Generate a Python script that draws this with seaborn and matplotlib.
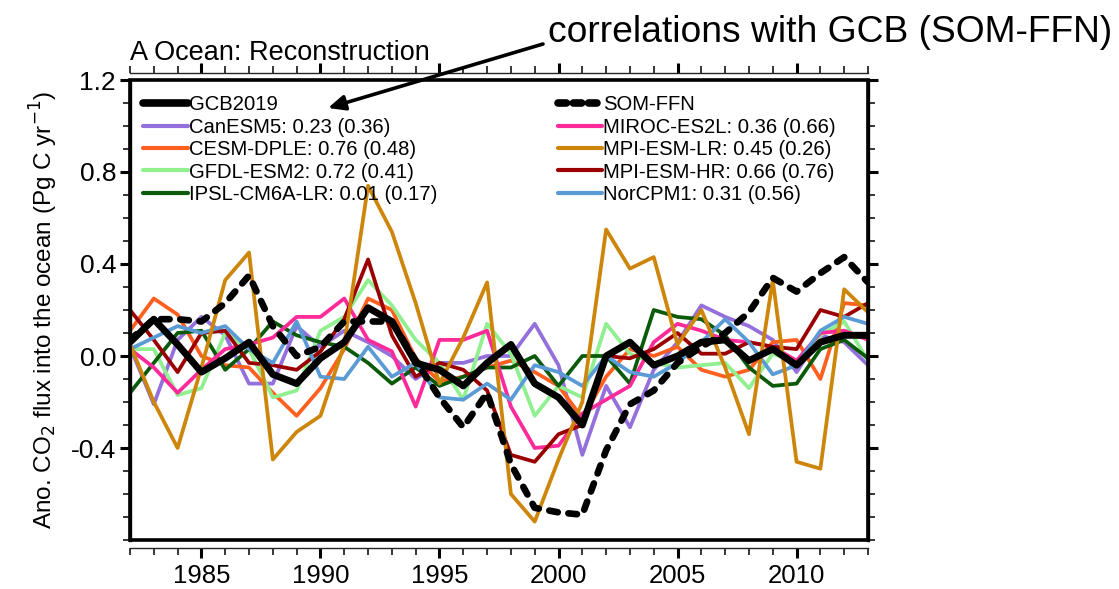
import numpy as np
import pandas as pd
import matplotlib
matplotlib.use("Agg")
import matplotlib.pyplot as plt
from matplotlib.patches import Rectangle
from matplotlib.lines import Line2D
from matplotlib.ticker import MultipleLocator, FixedLocator
import seaborn as sns

years = list(range(1982, 2014))

gcb2019 = [0.06, 0.16, 0.05, -0.07, -0.01, 0.06, -0.08, -0.12, -0.01, 0.06,
           0.21, 0.15, -0.03, -0.06, -0.13, -0.03, 0.05, -0.12, -0.18, -0.30,
           0.00, 0.06, -0.04, 0.00, 0.06, 0.07, -0.02, 0.03, -0.04, 0.06,
           0.09, 0.09]
som_ffn = [0.07, 0.16, 0.16, 0.15, 0.23, 0.35, 0.13, 0.00, 0.04, 0.15,
           0.15, 0.15, -0.02, -0.18, -0.31, -0.16, -0.47, -0.66, -0.68, -0.69,
           -0.41, -0.21, -0.15, -0.03, 0.04, 0.10, 0.19, 0.34, 0.28, 0.36,
           0.43, 0.32]
canesm5 = [0.04, -0.21, 0.07, 0.17, 0.09, -0.12, -0.12, 0.13, 0.04, 0.11,
           0.06, 0.00, -0.10, -0.03, -0.03, 0.00, 0.00, 0.14, -0.04, -0.43,
           -0.13, -0.31, -0.06, 0.06, 0.22, 0.17, 0.13, 0.07, -0.07, 0.09,
           0.06, -0.04]
cesm_dple = [0.11, 0.25, 0.18, 0.00, -0.04, -0.05, -0.16, -0.26, -0.14, 0.03,
             0.25, 0.20, -0.01, -0.11, -0.09, -0.05, -0.02, -0.07, -0.13, -0.27,
             -0.09, 0.03, 0.00, 0.04, -0.06, -0.09, -0.06, 0.06, 0.07, -0.10,
             0.23, 0.22]
gfdl_esm2 = [0.03, 0.03, -0.17, -0.14, 0.10, 0.03, -0.18, -0.15, 0.11, 0.17,
             0.33, 0.22, 0.07, -0.03, -0.19, 0.14, 0.01, -0.26, -0.13, -0.18,
             0.14, 0.01, -0.03, -0.05, -0.04, -0.03, -0.14, 0.01, -0.03, 0.09,
             0.15, -0.02]
ipsl = [-0.16, -0.03, 0.10, 0.11, -0.06, 0.03, 0.15, 0.09, 0.06, 0.04,
        -0.03, -0.12, -0.05, -0.13, -0.09, -0.05, -0.05, 0.00, -0.13, 0.00,
        0.00, -0.12, 0.20, 0.17, 0.16, 0.09, -0.05, -0.13, -0.12, 0.03,
        0.07, -0.01]
miroc = [0.03, -0.05, -0.16, -0.06, 0.03, 0.05, 0.08, 0.17, 0.17, 0.25,
         0.07, 0.02, -0.22, 0.07, 0.07, 0.11, -0.22, -0.40, -0.39, -0.25,
         -0.19, -0.13, 0.06, 0.14, 0.11, 0.07, 0.06, 0.04, -0.02, 0.10,
         0.11, 0.07]
mpi_lr = [0.05, -0.20, -0.40, -0.05, 0.33, 0.45, -0.45, -0.33, -0.26, 0.05,
          0.74, 0.54, 0.23, -0.12, 0.08, 0.32, -0.60, -0.72, -0.45, -0.20,
          0.55, 0.38, 0.43, 0.05, 0.20, -0.05, -0.34, 0.33, -0.46, -0.49,
          0.29, 0.19]
mpi_hr = [0.20, 0.07, -0.07, 0.10, 0.11, -0.03, -0.04, -0.06, 0.02, 0.16,
          0.42, 0.09, -0.09, -0.03, -0.06, -0.15, -0.43, -0.46, -0.34, -0.30,
          0.00, -0.01, 0.03, 0.10, 0.01, 0.01, 0.06, 0.04, 0.03, 0.20,
          0.17, 0.23]
norcpm1 = [0.03, 0.08, 0.13, 0.10, 0.13, 0.03, -0.03, 0.15, -0.09, -0.10,
           0.04, -0.09, -0.03, -0.18, -0.19, -0.12, -0.19, -0.04, -0.07, -0.13,
           0.00, -0.07, -0.09, -0.03, 0.06, 0.16, 0.06, -0.08, -0.04, 0.11,
           0.17, 0.14]

model_names = ["CanESM5", "CESM-DPLE", "GFDL-ESM2", "IPSL-CM6A-LR",
               "MIROC-ES2L", "MPI-ESM-LR", "MPI-ESM-HR", "NorCPM1"]
model_labels = ["CanESM5: 0.23 (0.36)", "CESM-DPLE: 0.76 (0.48)",
                "GFDL-ESM2: 0.72 (0.41)", "IPSL-CM6A-LR: 0.01 (0.17)",
                "MIROC-ES2L: 0.36 (0.66)", "MPI-ESM-LR: 0.45 (0.26)",
                "MPI-ESM-HR: 0.66 (0.76)", "NorCPM1: 0.31 (0.56)"]
model_values = [canesm5, cesm_dple, gfdl_esm2, ipsl, miroc, mpi_lr, mpi_hr, norcpm1]
model_colors = ["#9370DB", "#FF5F1F", "#90F090", "#0A5A0A",
                "#FF2A9A", "#CD850A", "#9B0000", "#5B9BD5"]

sns.set_style("ticks")
plt.rcParams['font.family'] = ['Liberation Sans', 'DejaVu Sans']
plt.rcParams['text.color'] = 'black'
plt.rcParams['axes.labelcolor'] = 'black'
plt.rcParams['xtick.color'] = 'black'
plt.rcParams['ytick.color'] = 'black'

fig = plt.figure(figsize=(11.19, 5.89), dpi=100)
ax = fig.add_axes([130/1119, 1-540/589, 738/1119, 460/589])

# models
order = [5, 0, 1, 2, 3, 4, 6, 7]
for i in order:
    sns.lineplot(x=years, y=model_values[i], color=model_colors[i], lw=2.7,
                 ax=ax, legend=False, zorder=2 + (1 if i == 5 else 0))
sns.lineplot(x=years, y=som_ffn, color="black", lw=4.8, ax=ax, legend=False, zorder=5)
ax.lines[-1].set_dashes((1.3, 1.6))
ax.lines[-1].set_dash_capstyle('round')
sns.lineplot(x=years, y=gcb2019, color="black", lw=5.0, ax=ax, legend=False, zorder=6)
ax.lines[-1].set_solid_capstyle('round')
ax.lines[-1].set_solid_joinstyle('round')

ax.set_xlim(1982, 2013)
ax.set_ylim(-0.8, 1.2)
ax.xaxis.set_major_locator(FixedLocator([1985, 1990, 1995, 2000, 2005, 2010]))
ax.xaxis.set_minor_locator(MultipleLocator(1))
ax.yaxis.set_major_locator(FixedLocator([-0.4, 0.0, 0.4, 0.8, 1.2]))
ax.yaxis.set_minor_locator(MultipleLocator(0.1))
ax.set_yticklabels(["-0.4", "0.0", "0.4", "0.8", "1.2"])
ax.set_xticklabels(["1985", "1990", "1995", "2000", "2005", "2010"])

ax.tick_params(axis='both', which='major', direction='out', length=7, width=2.2,
               labelsize=19, top=True, right=True, color='black', pad=3)
ax.tick_params(axis='both', which='minor', direction='out', length=5, width=1.1,
               top=True, right=True, color='black')
ax.tick_params(axis='x', which='major', pad=4, labelsize=18.5)

for s in ['left', 'right']:
    ax.spines[s].set_linewidth(2.4)
    ax.spines[s].set_color('black')
ax.spines['bottom'].set_position(('outward', 6))
ax.spines['top'].set_position(('outward', 5))
ax.spines['bottom'].set_linewidth(1.0)
ax.spines['top'].set_linewidth(1.0)
ax.add_patch(Rectangle((0, 0), 1, 1, transform=ax.transAxes, fill=False,
                       lw=2.6, edgecolor='black', clip_on=False, zorder=10))

ax.set_xlabel("")
ax.set_ylabel("Ano. CO$_2$ flux into the ocean (Pg C yr$^{-1}$)", fontsize=17.5, labelpad=8)
ax.text(0.0, 1.03, "A Ocean: Reconstruction", transform=ax.transAxes,
        fontsize=19.5, ha='left', va='bottom')

# legends
h_left = [Line2D([], [], color='black', lw=5.5, solid_capstyle='round')]
l_left = ["GCB2019"]
h_right = [Line2D([], [], color='black', lw=5.5, dashes=(1.1, 0.9), dash_capstyle='round')]
l_right = ["SOM-FFN"]
for i in range(4):
    h_left.append(Line2D([], [], color=model_colors[i], lw=3))
    l_left.append(model_labels[i])
for i in range(4, 8):
    h_right.append(Line2D([], [], color=model_colors[i], lw=3))
    l_right.append(model_labels[i])

common = dict(frameon=False, fontsize=14.6, handlelength=2.2, handletextpad=0.05,
              labelspacing=0.17, borderpad=0, borderaxespad=0, loc='upper left')
leg1 = ax.legend(h_left, l_left, bbox_to_anchor=(0.018, 0.967), **common)
ax.add_artist(leg1)
leg2 = ax.legend(h_right, l_right, bbox_to_anchor=(0.5795, 0.967), **common)

fig.text(548/1119, 1-32/589, "correlations with GCB (SOM-FFN)", fontsize=26.8,
         ha='left', va='center')
ax.annotate("", xy=(328/1119, 1-108/589), xycoords='figure fraction',
            xytext=(543/1119, 1-44/589), textcoords='figure fraction',
            arrowprops=dict(arrowstyle='-|>,head_length=1.0,head_width=0.45',
                            color='black', lw=2.6, shrinkA=0, shrinkB=0))

fig.savefig("out.png", dpi=100)
